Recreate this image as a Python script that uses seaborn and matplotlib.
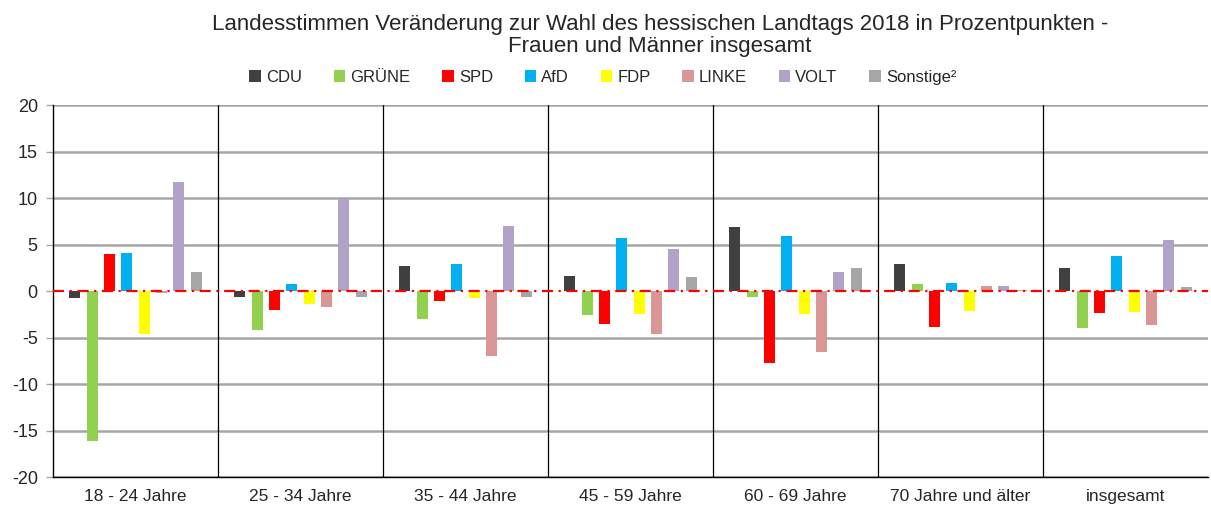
import pandas as pd
import matplotlib.pyplot as plt
import seaborn as sns

# ── Data: change in percentage points by age group ────────────────
groups = ["18 - 24 Jahre", "25 - 34 Jahre", "35 - 44 Jahre", "45 - 59 Jahre",
          "60 - 69 Jahre", "70 Jahre und älter", "insgesamt"]
parties = ["CDU", "GRÜNE", "SPD", "AfD", "FDP", "LINKE", "VOLT", "Sonstige²"]

cdu = [-0.7, -0.6, 2.7, 1.6, 6.9, 2.9, 2.5]
gruene = [-16.1, -4.2, -3.0, -2.6, -0.6, 0.8, -4.0]
spd = [4.0, -2.0, -1.1, -3.5, -7.7, -3.9, -2.4]
afd = [4.1, 0.8, 2.9, 5.7, 5.9, 0.9, 3.8]
fdp = [-4.6, -1.4, -0.7, -2.5, -2.5, -2.1, -2.3]
linke = [-0.2, -1.7, -7.0, -4.6, -6.6, 0.5, -3.6]
volt = [11.7, 9.9, 7.0, 4.5, 2.0, 0.6, 5.5]
sonstige = [2.0, -0.6, -0.6, 1.5, 2.5, 0.1, 0.4]

colors = ["#404040", "#92D050", "#FF0000", "#00B0F0",
          "#FFFF00", "#DA9694", "#B3A2C7", "#A6A6A6"]

series = [cdu, gruene, spd, afd, fdp, linke, volt, sonstige]
rows = []
for party, vals in zip(parties, series):
    for g, v in zip(groups, vals):
        rows.append({"Gruppe": g, "Partei": party, "Wert": v})
df = pd.DataFrame(rows)

# ── Plot ───────────────────────────────────────────────────────────
sns.set_style("white")
plt.rcParams["font.family"] = ["Liberation Sans", "DejaVu Sans"]
plt.rcParams["axes.unicode_minus"] = False

fig = plt.figure(figsize=(12.11, 5.08), dpi=100)
ax = fig.add_axes([0.0438, 0.061, 0.9537, 0.732])

sns.barplot(data=df, x="Gruppe", y="Wert", hue="Partei", order=groups,
            hue_order=parties, palette=colors, saturation=1, width=0.84,
            gap=0.36, linewidth=0, ax=ax, zorder=3)

ax.set_xlim(-0.5, len(groups) - 0.5)
ax.set_ylim(-20, 20)
ax.set_yticks(range(-20, 21, 5))

# gray grid lines, red dash-dot zero line
for y in range(-20, 21, 5):
    if y != 0:
        ax.axhline(y, color="#A6A6A6", lw=1.8, zorder=1)
ax.axhline(0, color="#FF0000", lw=1.6, ls=(0, (5, 2.5, 1, 2.5)), zorder=5)

# vertical separators between groups
for i in range(len(groups) - 1):
    ax.axvline(i + 0.5, color="black", lw=0.9, zorder=2)

for side in ["top", "right"]:
    ax.spines[side].set_visible(False)
ax.spines["left"].set_color("black")
ax.spines["left"].set_linewidth(1)
ax.spines["bottom"].set_color("black")
ax.spines["bottom"].set_linewidth(1)

ax.tick_params(axis="y", left=True, length=5, width=1, color="#A6A6A6",
               labelsize=13, pad=6)
ax.tick_params(axis="x", bottom=False, labelsize=12.5, pad=5)
ax.set_xlabel("")
ax.set_ylabel("")

fig.text(0.545, 0.93,
         "Landesstimmen Veränderung zur Wahl des hessischen Landtags 2018 in Prozentpunkten -\n"
         "Frauen und Männer insgesamt",
         ha="center", va="center", fontsize=16, linespacing=1.1)

sns.move_legend(ax, "center", bbox_to_anchor=(0.476, 1.075), ncol=8,
                frameon=False, title=None, fontsize=12, handlelength=0.7,
                handleheight=0.7, handletextpad=0.3, columnspacing=1.9)

plt.savefig("out.png", dpi=100)
